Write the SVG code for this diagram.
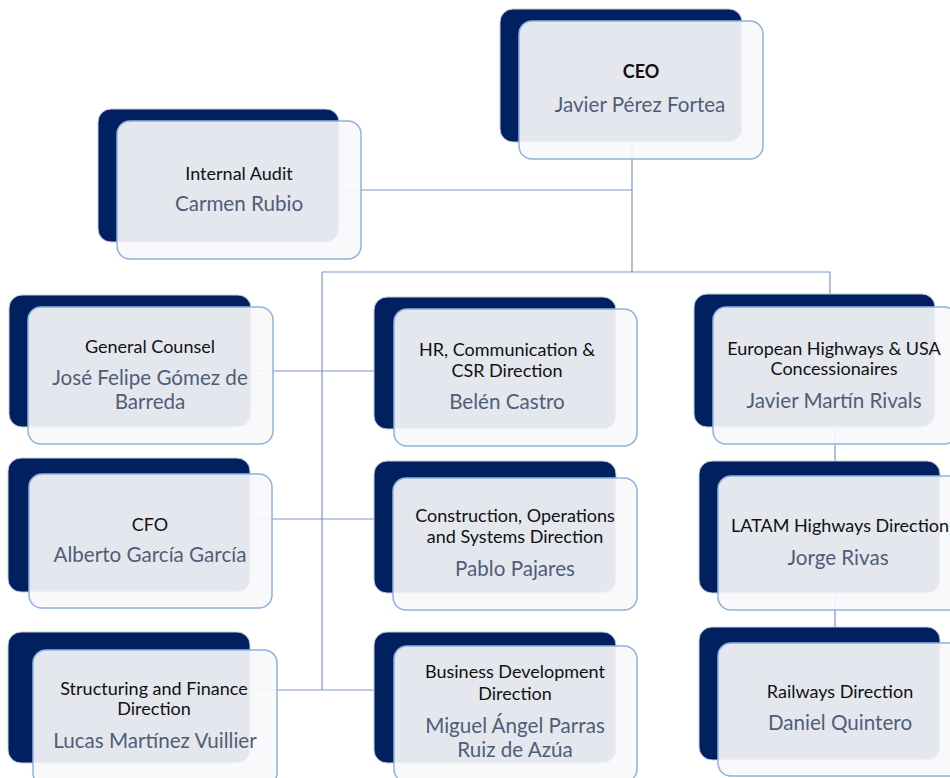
<svg xmlns="http://www.w3.org/2000/svg" width="950" height="778" viewBox="0 0 950 778">
<style>
.back{fill:#002060;stroke:#c9ced8;stroke-width:1}
.front{fill:#f8f9fc;fill-opacity:0.92;stroke:#8db2df;stroke-width:1.5}
.t{font-family:Lato,"Liberation Sans",sans-serif;font-size:18px;fill:#111;text-anchor:middle}
.b{font-weight:bold}
.n{font-family:Lato,"Liberation Sans",sans-serif;font-size:20.6px;fill:#4f5e77;text-anchor:middle}
.c{stroke:#7a95cc;stroke-width:1.2;fill:none}
</style>
<rect width="950" height="778" fill="#ffffff"/>
<g id="connectors">
<path class="c" d="M632 142V272"/>
<path class="c" d="M339 190H632"/>
<path class="c" d="M322 272H830V294"/>
<path class="c" d="M322 272V690"/>
<path class="c" d="M251 371H374"/>
<path class="c" d="M250 519H374"/>
<path class="c" d="M250 690H374"/>
<path class="c" d="M835 427V461"/>
<path class="c" d="M835 593V627"/>
</g>
<g id="ceo">
<rect class="back" x="500" y="9" width="242" height="133" rx="13"/>
<rect class="front" x="519" y="21" width="244" height="138" rx="13"/>
<text class="t b" x="641" y="78">CEO</text>
<text class="n" x="640" y="112">Javier Pérez Fortea</text>
</g>
<g id="internal-audit">
<rect class="back" x="98" y="109" width="241" height="133" rx="13"/>
<rect class="front" x="117" y="121" width="244" height="138" rx="13"/>
<text class="t" x="239" y="180">Internal Audit</text>
<text class="n" x="239" y="211">Carmen Rubio</text>
</g>
<g id="general-counsel">
<rect class="back" x="9" y="295" width="242" height="132" rx="13"/>
<rect class="front" x="28" y="307" width="245" height="137" rx="13"/>
<text class="t" x="150" y="353">General Counsel</text>
<text class="n" x="150" y="385">José Felipe Gómez de</text>
<text class="n" x="150" y="409">Barreda</text>
</g>
<g id="hr">
<rect class="back" x="374" y="297" width="242" height="132" rx="13"/>
<rect class="front" x="394" y="309" width="243" height="137" rx="13"/>
<text class="t" x="507" y="356">HR, Communication &amp;</text>
<text class="t" x="507" y="377">CSR Direction</text>
<text class="n" x="507" y="409">Belén Castro</text>
</g>
<g id="european-highways">
<rect class="back" x="694" y="294" width="241" height="133" rx="13"/>
<rect class="front" x="713" y="307" width="244" height="137" rx="13"/>
<text class="t" x="834" y="355">European Highways &amp; USA</text>
<text class="t" x="834" y="375">Concessionaires</text>
<text class="n" x="834" y="408">Javier Martín Rivals</text>
</g>
<g id="cfo">
<rect class="back" x="8" y="458" width="242" height="134" rx="13"/>
<rect class="front" x="29" y="474" width="243" height="134" rx="13"/>
<text class="t" x="150" y="531">CFO</text>
<text class="n" x="150" y="562">Alberto García García</text>
</g>
<g id="construction">
<rect class="back" x="374" y="461" width="242" height="132" rx="13"/>
<rect class="front" x="393" y="478" width="244" height="132" rx="13"/>
<text class="t" x="515" y="522">Construction, Operations</text>
<text class="t" x="515" y="543">and Systems Direction</text>
<text class="n" x="515" y="576">Pablo Pajares</text>
</g>
<g id="latam">
<rect class="back" x="699" y="461" width="241" height="132" rx="13"/>
<rect class="front" x="718" y="476" width="244" height="134" rx="13"/>
<text class="t" x="840" y="532">LATAM Highways Direction</text>
<text class="n" x="838" y="565">Jorge Rivas</text>
</g>
<g id="structuring">
<rect class="back" x="8" y="632" width="242" height="131" rx="13"/>
<rect class="front" x="33" y="650" width="244" height="136" rx="13"/>
<text class="t" x="154" y="695">Structuring and Finance</text>
<text class="t" x="154" y="715">Direction</text>
<text class="n" x="155" y="748">Lucas Martínez Vuillier</text>
</g>
<g id="business-development">
<rect class="back" x="374" y="632" width="242" height="131" rx="13"/>
<rect class="front" x="394" y="646" width="243" height="136" rx="13"/>
<text class="t" x="515" y="678">Business Development</text>
<text class="t" x="515" y="700">Direction</text>
<text class="n" x="515" y="733">Miguel Ángel Parras</text>
<text class="n" x="515" y="757">Ruiz de Azúa</text>
</g>
<g id="railways">
<rect class="back" x="699" y="627" width="241" height="133" rx="13"/>
<rect class="front" x="718" y="643" width="244" height="133" rx="13"/>
<text class="t" x="840" y="698">Railways Direction</text>
<text class="n" x="840" y="730">Daniel Quintero</text>
</g>
</svg>
